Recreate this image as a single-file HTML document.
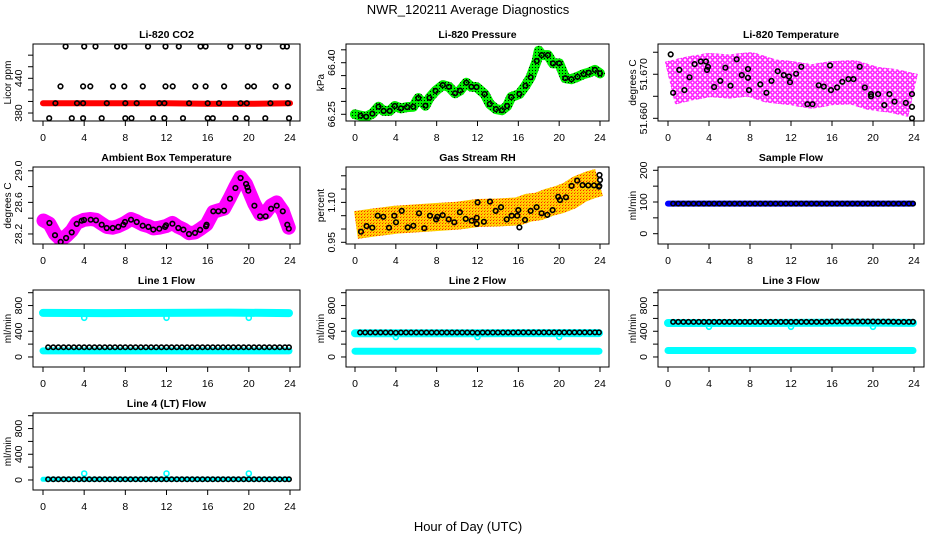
<!DOCTYPE html>
<html><head><meta charset="utf-8"><style>
html,body{margin:0;padding:0;background:#fff;width:936px;height:540px;overflow:hidden}
svg{display:block;font-family:"Liberation Sans",Arial,sans-serif}
</style></head><body>
<svg id="chart" width="936" height="540" viewBox="0 0 936 540" xmlns="http://www.w3.org/2000/svg">
<defs>
<pattern id="pm" width="5" height="5" patternUnits="userSpaceOnUse"><rect width="5" height="5" fill="#fff"/><circle cx="2.5" cy="2.5" r="1.7" fill="none" stroke="#ff00ff" stroke-width="1.4"/></pattern>
<pattern id="pg" width="3" height="3" patternUnits="userSpaceOnUse"><rect width="3" height="3" fill="#00ee00"/><rect x="1" y="1" width="1" height="1" fill="#000"/></pattern>
<pattern id="py" width="3" height="3" patternUnits="userSpaceOnUse"><rect width="3" height="3" fill="#ffd000"/><rect x="1" y="1" width="1" height="1" fill="#ff2000"/><rect x="2" y="0" width="1" height="1" fill="#ff8000"/></pattern>
</defs>
<text x="468" y="14" text-anchor="middle" font-size="13">NWR_120211  Average Diagnostics</text>
<text x="468" y="531" text-anchor="middle" font-size="13">Hour of Day (UTC)</text>
</svg>
<script>
// ---------- data ----------
const xTicks=[0,4,8,12,16,20,24];
// CO2
const co2Hours=[2.2,4.0,5.1,7.2,7.9,10.2,11.9,13.2,15.3,15.8,18.2,19.9,21.0,23.3,23.7, 1.7,3.9,4.6,6.8,7.9,9.7,11.9,12.6,14.8,15.8,17.6,19.9,20.5,22.6,23.8, 1.2,3.3,3.9,6.2,8.0,9.1,11.3,11.8,14.2,16.0,17.1,19.2,19.8,22.1,23.8, 0.6,2.8,3.9,5.7,8.0,8.6,10.7,11.8,13.6,16.0,16.5,18.7,19.8,21.6,23.9];
const co2Vals=[495,495,495,495,495,495,495,495,495,495,495,495,495,495,495, 426,426,426,426,426,426,426,426,426,426,426,426,426,426,426, 397,397,397,397,397,397,397,397,397,397,397,397,397,397,397, 371,371,371,371,371,371,371,371,371,371,371,371,371,371,371];
const co2RedHours=[0,4,8,12,16,20,24];
const co2RedVals=[397,397,397,397,396,396,397];
// Pressure
const presHours=[0.55,1.1,1.7,2.3,2.8,3.4,3.9,4.5,5.1,5.7,6.2,6.9,7.3,7.9,8.6,9.2,9.8,10.3,10.9,11.4,11.9,12.7,13.2,13.8,14.4,14.9,15.3,16.1,16.7,17.2,17.8,18.3,18.9,19.4,20.0,20.6,21.2,21.8,22.4,22.9,23.5,24.0];
const presVals=[66.246,66.243,66.252,66.272,66.26,66.26,66.274,66.267,66.271,66.272,66.297,66.275,66.298,66.318,66.335,66.330,66.311,66.319,66.342,66.330,66.329,66.309,66.280,66.265,66.262,66.274,66.300,66.309,66.333,66.358,66.405,66.422,66.422,66.398,66.398,66.355,66.352,66.359,66.367,66.371,66.379,66.369];
const presGreenHours=[0,0.55,1.1,1.7,2.3,2.8,3.4,3.9,4.5,5.1,5.7,6.2,6.9,7.3,7.9,8.6,9.2,9.8,10.3,10.9,11.4,11.9,12.7,13.2,13.8,14.4,14.9,15.3,16.1,16.7,17.2,17.8,18.0,18.3,18.9,19.4,20.0,20.6,21.2,21.8,22.4,22.9,23.5,24.0];
const presGreenVals=[66.250,66.246,66.243,66.252,66.272,66.26,66.26,66.274,66.267,66.271,66.272,66.297,66.275,66.298,66.318,66.335,66.330,66.311,66.319,66.342,66.330,66.329,66.309,66.280,66.265,66.262,66.274,66.300,66.309,66.333,66.358,66.405,66.435,66.422,66.422,66.398,66.398,66.355,66.352,66.359,66.367,66.371,66.379,66.369];
// Li-820 temperature
const tempHours=[0.26,0.5,1.1,1.6,2.1,2.6,3.2,3.7,3.8,3.9,4.5,5.1,5.6,6.1,6.7,7.2,7.8,7.8,7.9,9.0,9.6,10.1,10.7,11.3,11.8,11.9,12.5,13.0,13.6,14.1,14.7,15.2,15.8,15.9,16.5,17.0,17.6,18.1,18.7,19.2,19.8,19.8,20.5,21.1,21.6,22.1,23.2,23.8,23.8,23.8];
const tempVals=[51.6745,51.6658,51.671,51.6664,51.6693,51.6723,51.6729,51.6729,51.671,51.6717,51.6671,51.6685,51.6715,51.6674,51.6734,51.6698,51.6712,51.6692,51.6664,51.6677,51.6658,51.6685,51.6707,51.6698,51.6695,51.6682,51.6701,51.6717,51.6632,51.6632,51.6675,51.6672,51.672,51.6664,51.6670,51.6683,51.6689,51.6689,51.6717,51.6670,51.6655,51.665,51.6655,51.663,51.6655,51.6638,51.6635,51.6655,51.6626,51.660];
const tempCloudHours=[0.2,2,4,6,8,10,12,14,16,18,20,22,23.9];
const tempCloudVals=[51.6680,51.6690,51.6698,51.6695,51.6700,51.6685,51.6680,51.6672,51.6680,51.6682,51.6668,51.6662,51.6652];
// Ambient box temperature
const ambHours=[0.62,1.17,1.72,2.24,2.79,3.27,3.76,3.98,4.63,5.15,5.7,6.19,6.77,7.32,7.81,7.97,8.55,9.1,9.69,10.24,10.72,11.3,11.86,11.95,12.57,13.15,13.64,14.19,14.77,15.26,15.84,15.9,16.55,17.04,17.59,18.17,18.69,19.2,19.73,19.86,19.95,20.54,21.09,21.64,22.16,22.71,23.3,23.74,23.88];
const ambVals=[28.339,28.184,28.099,28.149,28.22,28.327,28.368,28.377,28.381,28.373,28.318,28.276,28.276,28.289,28.318,28.352,28.381,28.352,28.305,28.289,28.255,28.267,28.289,28.31,28.33,28.276,28.255,28.2,28.213,28.251,28.297,28.318,28.487,28.487,28.495,28.647,28.782,28.909,28.833,28.791,28.748,28.558,28.424,28.424,28.52,28.558,28.487,28.318,28.267];
const ambCloudHours=[0.05,0.62,1.17,1.72,2.24,2.79,3.27,3.98,4.63,5.15,5.7,6.19,6.77,7.32,7.97,8.55,9.1,9.69,10.24,10.72,11.3,11.95,12.57,13.15,13.64,14.19,14.77,15.26,15.9,16.55,17.04,17.59,18.17,18.69,19.2,19.73,20.54,21.09,21.64,22.16,22.71,23.3,23.88];
const ambCloudVals=[28.37,28.33,28.20,28.13,28.17,28.24,28.34,28.38,28.39,28.38,28.33,28.29,28.28,28.30,28.34,28.39,28.36,28.32,28.30,28.27,28.28,28.30,28.34,28.29,28.26,28.21,28.22,28.26,28.32,28.48,28.50,28.52,28.66,28.80,28.92,28.83,28.58,28.45,28.47,28.56,28.60,28.49,28.28];
// Gas stream RH
const rhHours=[0.59,1.14,1.69,2.22,2.77,3.33,3.85,4.02,4.57,5.16,5.71,6.27,6.79,7.35,7.94,8.06,8.59,9.18,9.73,10.28,10.84,11.43,11.92,11.92,12.01,12.63,13.22,13.78,14.3,14.86,15.35,15.9,16.0,16.1,16.65,17.2,17.79,18.28,18.84,19.36,19.91,20.08,20.67,21.22,21.77,22.3,22.85,23.41,23.93,23.95,24.0,23.9];
const rhVals=[0.990,1.011,1.005,1.050,1.046,1.005,1.05,1.025,1.068,1.006,1.012,1.059,1.003,1.05,1.036,1.046,1.052,1.036,1.025,1.063,1.038,1.031,1.042,1.019,1.10,1.027,1.103,1.068,1.082,1.036,1.05,1.05,1.071,1.006,1.034,1.068,1.082,1.059,1.053,1.071,1.121,1.109,1.119,1.162,1.182,1.165,1.164,1.164,1.162,1.203,1.184,1.159];
const rhCloudHours=[0.1,2,4,6,8,10,12,14,16,17,18,19,20,21,22,23,23.9];
const rhCloudVals=[1.015,1.025,1.035,1.040,1.045,1.050,1.060,1.062,1.066,1.080,1.085,1.100,1.110,1.125,1.150,1.165,1.175];
// Flows (half-hourly averages)
const flowHours=[0.5,1,1.5,2,2.5,3,3.5,4,4.5,5,5.5,6,6.5,7,7.5,8,8.5,9,9.5,10,10.5,11,11.5,12,12.5,13,13.5,14,14.5,15,15.5,16,16.5,17,17.5,18,18.5,19,19.5,20,20.5,21,21.5,22,22.5,23,23.5,23.9];
const sampleVals=[95,95,95,95,95,95,95,95,95,95,95,95,95,95,95,95,95,95,95,95,95,95,95,95,95,95,95,95,95,95,95,95,95,95,95,95,95,95,95,95,95,95,95,95,95,95,95,95];
const line1Vals=[150,150,150,150,150,150,150,150,150,150,150,150,150,150,150,150,150,150,150,150,150,150,150,150,150,150,150,150,150,150,150,150,150,150,150,150,150,150,150,150,150,150,150,150,150,150,150,150];
const line2Vals=[380,380,380,380,380,380,380,378,380,380,380,380,380,380,380,380,380,380,380,380,380,380,380,378,380,380,380,380,380,380,380,382,382,382,382,382,382,382,382,382,382,382,382,382,382,382,382,382];
const line3Vals=[545,545,545,545,545,545,545,545,545,545,545,545,545,545,545,545,545,545,545,545,545,545,545,545,545,545,545,545,545,545,548,552,552,552,552,552,552,552,552,552,550,550,550,548,545,545,545,548];
const line4Vals=[10,10,10,10,10,10,10,10,10,10,10,10,10,10,10,10,10,10,10,10,10,10,10,10,10,10,10,10,10,10,10,10,10,10,10,10,10,10,10,10,10,10,10,10,10,10,10,10];
const bandHours=[0,6,12,18,23.9];
const sampleBlue=[95,95,95,95,95];
const line1CyanHi=[685,682,685,690,682];
const line1CyanLo=[95,95,95,95,95];
const line2CyanHi=[368,368,370,372,372];
const line2CyanLo=[90,90,90,90,90];
const line3CyanHi=[528,528,530,535,530];
const line3CyanLo=[100,100,100,100,100];
const line4Cyan=[10,10,10,10,10];
const dipHours=[4,12,20];
const line1Dips=[610,610,610];
const line2Dips=[310,310,310];
const line3Dips=[470,470,470];
const line4Dips=[100,100,100];

// ---------- layout ----------
const NS='http://www.w3.org/2000/svg';
const svg=document.getElementById('chart');
const cols=[{bx:33,bw:267,h0:43,h24:290},{bx:346,bw:263,h0:355,h24:600},{bx:658,bw:266,h0:668,h24:914}];
const rows=[44,167,290,413];
const BH=77;
function mk(tag,attrs,parent){const e=document.createElementNS(NS,tag);for(const k in attrs)e.setAttribute(k,attrs[k]);(parent||svg).appendChild(e);return e;}
function panel(ci,ri,name,title,ylab,ymin,ymax,ticks,labels){
  const c=cols[ci],top=rows[ri];
  const g=mk('g',{});
  
  
  const x=h=>c.h0+(c.h24-c.h0)*h/24;
  const y=v=>top+BH-(v-ymin)/(ymax-ymin)*BH;
  const t=mk('text',{x:c.bx+c.bw/2,y:top-6,'text-anchor':'middle','font-size':'10.5','font-weight':'bold'},g);
  t.textContent=title;
  
  
  const yl=mk('text',{transform:`translate(${c.bx-22},${top+BH/2}) rotate(-90)`,'text-anchor':'middle','font-size':'10'},g);
  yl.textContent=ylab;
  
  
  const clip=mk('clipPath',{id:'clip-'+name},g);
  mk('rect',{x:c.bx,y:top,width:c.bw,height:BH},clip);
  const plot=mk('g',{'clip-path':'url(#clip-'+name+')'},g);
  
  
  const ax=mk('g',{stroke:'#000','stroke-width':'1'},g);
  
  
  mk('rect',{x:c.bx,y:top,width:c.bw,height:BH,fill:'none'},ax);
  xTicks.forEach(v=>{
    mk('line',{x1:x(v),x2:x(v),y1:top+BH,y2:top+BH+5},ax);
    const tl=mk('text',{x:x(v),y:top+BH+20,'text-anchor':'middle','font-size':'10.5',stroke:'none'},g);
    tl.textContent=v;
    
    
  });
  ticks.forEach((v,i)=>{
    mk('line',{x1:c.bx-5,x2:c.bx,y1:y(v),y2:y(v)},ax);
    if(labels[i]!==''){
      const tl=mk('text',{transform:`translate(${c.bx-11},${y(v)}) rotate(-90)`,'text-anchor':'middle','font-size':'10.5',stroke:'none'},g);
      tl.textContent=labels[i];
      
      
    }
  });
  return {plot,x,y,name};
}
function band(p,hs,vs,stroke,w,nm,cap){
  const pts=hs.map((h,i)=>p.x(h).toFixed(1)+','+p.y(vs[i]).toFixed(1)).join(' ');
  const e=mk('polyline',{points:pts,fill:'none',stroke:stroke,'stroke-width':w,'stroke-linejoin':'round','stroke-linecap':cap||'round'},p.plot);
  
  
}
function pts(p,hs,vs,color,nm,r){
  const g=mk('g',{fill:'none',stroke:color,'stroke-width':'1.6'},p.plot);
  
  
  hs.forEach((h,i)=>{
    const c=mk('circle',{cx:p.x(h).toFixed(1),cy:p.y(vs[i]).toFixed(1),r:r||2.3},g);
    
    
  });
}
const flowTicks=[0,200,400,600,800,1000];
const flowLabels=['0','','400','','800',''];

let p=panel(0,0,'co2','Li-820 CO2','Licor ppm',366.2,499.3,[380,400,420,440,460,480],['380','','','440','','']);
band(p,co2RedHours,co2RedVals,'#ff0000',6,'co2-minute-band');
pts(p,co2Hours,co2Vals,'#000','co2-average');

p=panel(1,0,'pressure','Li-820 Pressure','kPa',66.2305,66.4544,[66.25,66.2875,66.325,66.3625,66.40,66.4375],['66.25','','','','66.40','']);
band(p,presGreenHours,presGreenVals,'url(#pg)',10,'pressure-minute-band');
pts(p,presHours,presVals,'#000','pressure-average');

p=panel(2,0,'li820-temp','Li-820 Temperature','degrees C',51.65939,51.67687,[51.660,51.665,51.670,51.675],['51.660','','51.670','']);
band(p,tempCloudHours,tempCloudVals,'url(#pm)',44,'li820-temp-minute-cloud','butt');
pts(p,tempHours,tempVals,'#000','li820-temp-average');

p=panel(0,1,'ambient','Ambient Box Temperature','degrees C',28.073,29.048,[28.2,28.4,28.6,28.8,29.0],['28.2','','28.6','','29.0']);
band(p,ambCloudHours,ambCloudVals,'#ff00ff',14,'ambient-minute-band');
pts(p,ambHours,ambVals,'#000','ambient-average');

p=panel(1,1,'rh','Gas Stream RH','percent',0.9436,1.233,[0.95,1.00,1.05,1.10,1.15,1.20],['0.95','','','1.10','','']);
band(p,rhCloudHours,rhCloudVals,'url(#py)',28,'rh-minute-cloud','butt');
pts(p,rhHours,rhVals,'#000','rh-average');

p=panel(2,1,'sample-flow','Sample Flow','ml/min',-32.5,210.4,[0,50,100,150,200],['0','','100','','200']);
band(p,bandHours,sampleBlue,'#0000ff',6,'sample-flow-minute-band');
pts(p,flowHours,sampleVals,'#000','sample-flow-average',2.2);

p=panel(0,2,'line1','Line 1 Flow','ml/min',-156,1042,flowTicks,flowLabels);
band(p,bandHours,line1CyanHi,'#00ffff',8,'line1-flow-band');
band(p,bandHours,line1CyanLo,'#00ffff',7,'line1-zero-band');
pts(p,dipHours,line1Dips,'#00ffff','line1-dips',2.5);
pts(p,flowHours,line1Vals,'#000','line1-average',2.2);

p=panel(1,2,'line2','Line 2 Flow','ml/min',-156,1042,flowTicks,flowLabels);
band(p,bandHours,line2CyanHi,'#00ffff',8,'line2-flow-band');
band(p,bandHours,line2CyanLo,'#00ffff',7,'line2-zero-band');
pts(p,dipHours,line2Dips,'#00ffff','line2-dips',2.5);
pts(p,flowHours,line2Vals,'#000','line2-average',2.2);

p=panel(2,2,'line3','Line 3 Flow','ml/min',-156,1042,flowTicks,flowLabels);
band(p,bandHours,line3CyanHi,'#00ffff',8,'line3-flow-band');
band(p,bandHours,line3CyanLo,'#00ffff',7,'line3-zero-band');
pts(p,dipHours,line3Dips,'#00ffff','line3-dips',2.5);
pts(p,flowHours,line3Vals,'#000','line3-average',2.2);

p=panel(0,3,'line4','Line 4 (LT) Flow','ml/min',-156,1042,flowTicks,flowLabels);
band(p,bandHours,line4Cyan,'#00ffff',5,'line4-flow-band');
pts(p,dipHours,line4Dips,'#00ffff','line4-dips',2.5);
pts(p,flowHours,line4Vals,'#000','line4-average',2.2);
</script>
</body></html>
